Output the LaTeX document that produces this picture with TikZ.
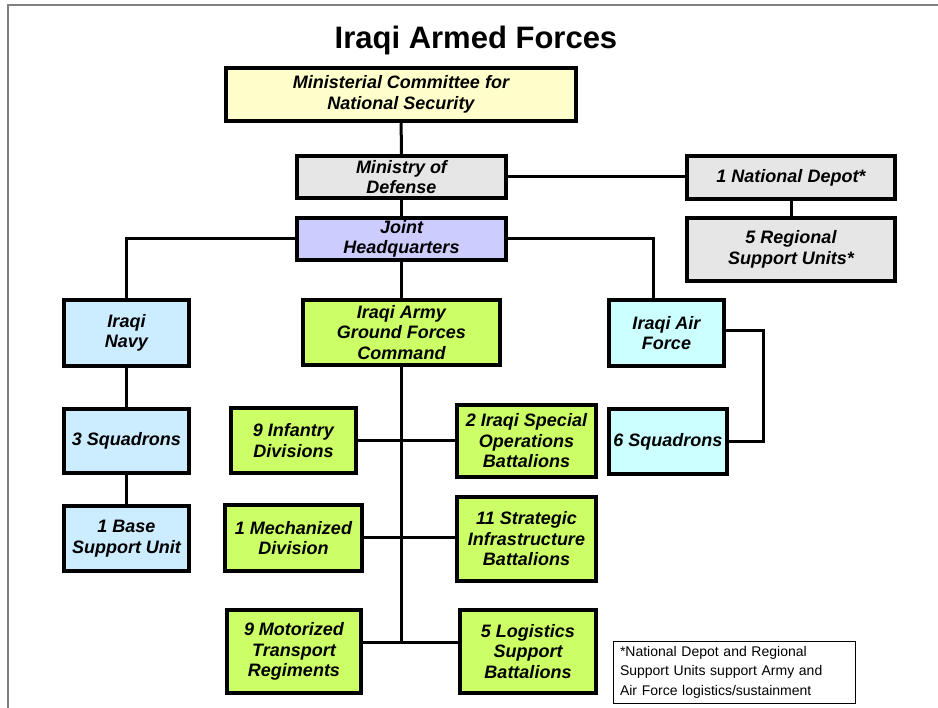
\documentclass[tikz,border=0pt]{standalone}
\usepackage{fontspec}
\setmainfont{Liberation Sans}
\definecolor{cyellow}{HTML}{FFFFCC}
\definecolor{cgray}{HTML}{E6E6E6}
\definecolor{cpurple}{HTML}{CCCCFF}
\definecolor{cblue}{HTML}{CCECFF}
\definecolor{ccyan}{HTML}{CCFFFF}
\definecolor{cgreen}{HTML}{CCFF66}
\begin{document}
\begin{tikzpicture}[x=1pt,y=-1pt,
  box/.style={draw=black, line width=3.2pt, align=center, inner sep=1pt,
    font=\fontsize{18}{20.5}\selectfont\bfseries\itshape},
  conn/.style={draw=black, line width=3pt},
  frame/.style={draw=gray, line width=1.5pt}]
\useasboundingbox (0,0) rectangle (938,708);
\draw[frame] (8,708) -- (8,5) -- (938,5);
\node[font=\fontsize{31}{36}\selectfont\bfseries] (title) at (476,40) {Iraqi Armed Forces};
% top
\node[box, fill=cyellow, minimum width=350pt, minimum height=53pt] (mcns) at (401,94.5) {Ministerial Committee for\\National Security};
\node[box, fill=cgray, minimum width=209pt, minimum height=42pt] (mod) at (401.5,177) {Ministry of\\Defense};
\node[box, fill=cpurple, minimum width=209pt, minimum height=42pt] (jhq) at (401.5,239) {Joint\\Headquarters};
\node[box, fill=cgray, minimum width=208pt, minimum height=43pt] (nd) at (791,177.5) {1 National Depot*};
\node[box, fill=cgray, minimum width=208pt, minimum height=63pt] (rsu) at (791,249.5) {5 Regional\\Support Units*};
% navy
\node[box, fill=cblue, minimum width=125pt, minimum height=66pt] (navy) at (126.5,333) {Iraqi\\Navy};
\node[box, fill=cblue, minimum width=125pt, minimum height=64pt] (sq3) at (126.5,441) {3 Squadrons};
\node[box, fill=cblue, minimum width=125pt, minimum height=65pt] (base) at (126.5,538.5) {1 Base\\Support Unit};
% air force
\node[box, fill=ccyan, minimum width=115pt, minimum height=66pt] (af) at (666.5,333) {Iraqi Air\\Force};
\node[box, fill=ccyan, minimum width=118pt, minimum height=65pt] (sq6) at (668,441.5) {6 Squadrons};
% army
\node[box, fill=cgreen, minimum width=197pt, minimum height=65pt] (gfc) at (401.5,332.5) {Iraqi Army\\Ground Forces\\Command};
\node[box, fill=cgreen, minimum width=125pt, minimum height=65pt] (inf) at (293.5,440.5) {9 Infantry\\Divisions};
\node[box, fill=cgreen, minimum width=139pt, minimum height=72pt] (sof) at (526.5,441) {2 Iraqi Special\\Operations\\Battalions};
\node[box, fill=cgreen, minimum width=137pt, minimum height=66pt] (mech) at (293.5,538) {1 Mechanized\\Division};
\node[box, fill=cgreen, minimum width=139pt, minimum height=84pt] (sib) at (526.5,539) {11 Strategic\\Infrastructure\\Battalions};
\node[box, fill=cgreen, minimum width=134pt, minimum height=83pt] (mot) at (294,651.5) {9 Motorized\\Transport\\Regiments};
\node[box, fill=cgreen, minimum width=136pt, minimum height=83pt] (log) at (528,651.5) {5 Logistics\\Support\\Battalions};
% note
\node[draw=black, line width=0.8pt, minimum width=242pt, minimum height=62pt, text width=228pt, align=left, inner sep=0pt,
  font=\fontsize{14}{19.5}\selectfont] (note) at (734,672) {*National Depot and Regional\\Support Units support Army and\\Air Force logistics/sustainment};
% connectors
\coordinate (afbus) at (763,331);
\coordinate (trunkend) at (402,642);
\draw[conn] (mcns) -- (mod);
\draw[conn] (mod) -- (jhq);
\draw[conn] (jhq) -- (gfc);
\draw[conn] (mod.east) -- (mod.east -| nd.west);
\draw[conn] (nd) -- (rsu);
\draw[conn] (jhq.west) -| (navy.north);
\draw[conn] (jhq.east) -| ([xshift=-13.5pt]af.north);
\draw[conn] (navy) -- (sq3);
\draw[conn] (sq3) -- (base);
\draw[conn] (af.east |- afbus) -- (afbus) |- (sq6.east);
\draw[conn] (gfc.south) -- (gfc.south |- trunkend);
\draw[conn] (inf.east) -- (inf.east -| sof.west);
\draw[conn] (mech.east) -- (mech.east -| sib.west);
\draw[conn] (mot.east |- trunkend) -- (log.west |- trunkend);
\end{tikzpicture}
\end{document}
